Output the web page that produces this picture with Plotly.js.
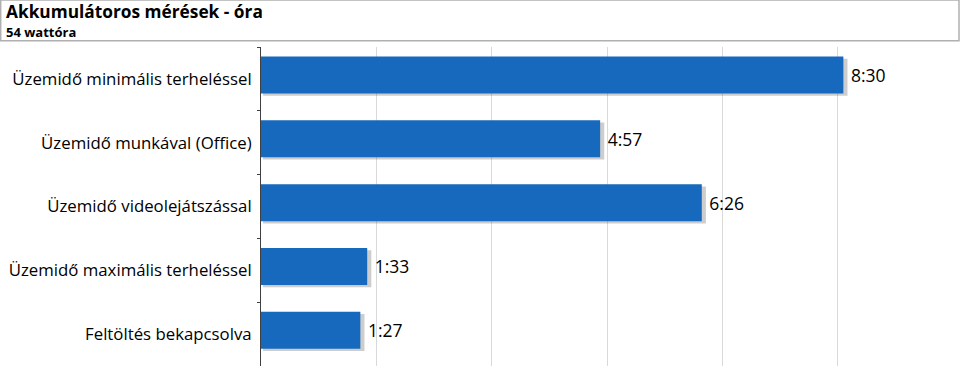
<!DOCTYPE html>
<html>
<head>
<meta charset="utf-8">
<script src="https://cdn.plot.ly/plotly-3.0.1.min.js"></script>
<style>html,body{margin:0;padding:0;background:#fff;}#chart{width:960px;height:380px;}</style>
</head>
<body>
<div id="chart"></div>
<script>
const categories = [
  "Üzemidő minimális terheléssel",
  "Üzemidő munkával (Office)",
  "Üzemidő videolejátszással",
  "Üzemidő maximális terheléssel",
  "Feltöltés bekapcsolva"
];
const minutes = [510, 297, 386, 93, 87];
const valueLabels = ["8:30", "4:57", "6:26", "1:33", "1:27"];
const titleText = "Akkumulátoros mérések - óra";
const subtitleText = "54 wattóra";

const FONT = "'Open Sans', sans-serif";
const BLUE = "rgb(23,105,189)";

const W = 960, H = 380;
const L = 261, R = 6.5, T = 47.3, B = 14.3;
const pw = W - L - R, ph = H - T - B;
const px2x = p => (p - L) / pw;
const py2y = p => 1 + (T - p) / ph;

const BW = 0.58, OFF = -0.29 - 0.06;

const shadow = {
  type: "bar", orientation: "h",
  y: categories, x: minutes.map(v => v + 1.8), base: 1.8,
  width: BW, offset: OFF + 0.035,
  marker: { color: "rgba(90,90,90,0.3)", line: { width: 0 } },
  hoverinfo: "skip", showlegend: false
};
const bars = {
  type: "bar", orientation: "h",
  y: categories, x: minutes,
  width: BW, offset: OFF,
  marker: { color: BLUE, line: { width: 0 } },
  text: valueLabels, textposition: "outside", texttemplate: "\u00a0%{text}",
  textfont: { family: FONT, size: 17.5, color: "#000" },
  cliponaxis: false, hoverinfo: "skip", showlegend: false
};

const layout = {
  width: W, height: H,
  margin: { l: L, r: R, t: T, b: B, pad: 0 },
  paper_bgcolor: "#fff", plot_bgcolor: "#fff",
  barmode: "overlay",
  font: { family: FONT, size: 16.8, color: "#000" },
  xaxis: {
    range: [0, 606], dtick: 101, tick0: 0,
    showgrid: true, gridcolor: "#d9d9d9", gridwidth: 1,
    showticklabels: false, zeroline: false, showline: false, ticks: ""
  },
  yaxis: {
    type: "category", autorange: "reversed",
    showline: true, linecolor: "#404040", linewidth: 1,
    ticks: "outside", tickson: "boundaries", ticklen: 3, tickcolor: "#404040",
    showgrid: false, ticklabelstandoff: 5,
    tickfont: { family: FONT, size: 16.8, color: "#000" }
  },
  shapes: [{
    type: "rect", xref: "paper", yref: "paper",
    x0: px2x(0.5), x1: px2x(959.5), y0: py2y(0.5), y1: py2y(41),
    line: { color: "#b0b0b0", width: 1.5 }, fillcolor: "rgba(0,0,0,0)", layer: "above"
  }],
  annotations: [
    { xref: "paper", yref: "paper", x: px2x(5), y: py2y(12), xanchor: "left", yanchor: "middle",
      text: "<b>" + titleText + "</b>", showarrow: false, borderpad: 0,
      font: { family: FONT, size: 17.3, color: "#000" } },
    { xref: "paper", yref: "paper", x: px2x(5), y: py2y(32), xanchor: "left", yanchor: "middle",
      text: "<b>" + subtitleText + "</b>", showarrow: false, borderpad: 0,
      font: { family: FONT, size: 13, color: "#000" } }
  ]
};

Plotly.newPlot("chart", [shadow, bars], layout, { staticPlot: true, displayModeBar: false });
</script>
</body>
</html>
